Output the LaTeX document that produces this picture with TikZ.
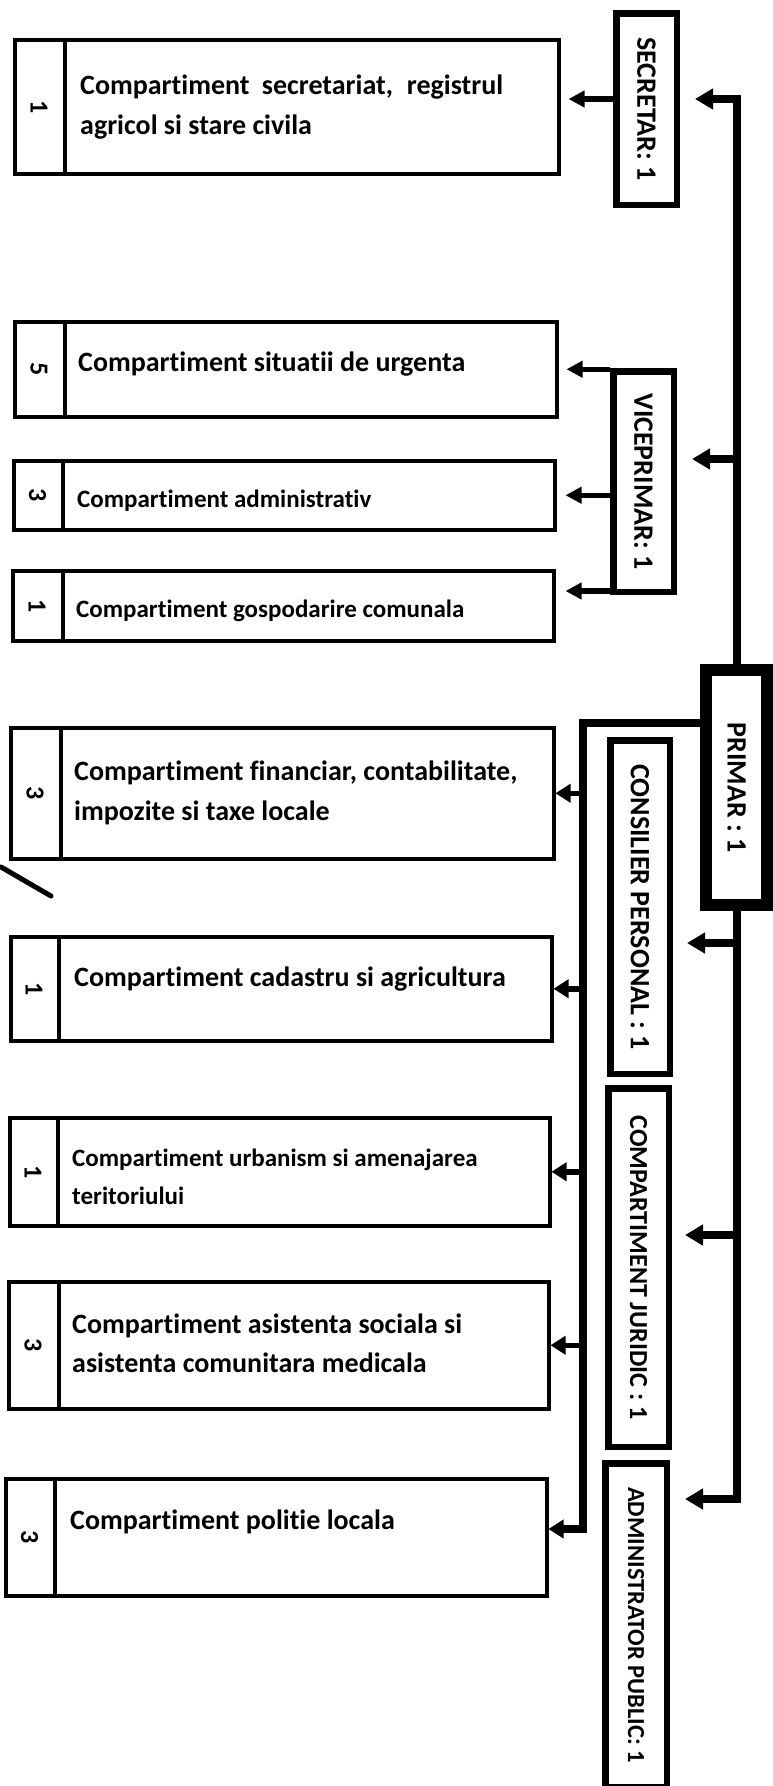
\documentclass[tikz,border=0pt]{standalone}
\usepackage{fontspec}
\setmainfont{Carlito}[Ligatures={NoCommon,NoRequired,NoContextual}]
\usepackage{graphicx}
\usetikzlibrary{arrows.meta,calc}
\begin{document}
\begin{tikzpicture}[x=1pt,y=-1pt,
  lbox/.style={draw, line width=3.5pt, inner sep=0pt, anchor=north west},
  divline/.style={line width=4pt},
  rbox/.style={draw, line width=6.5pt, inner sep=0pt},
  pbox/.style={draw, line width=12pt, inner sep=0pt},
  num/.style={font=\fontsize{26}{30}\selectfont\bfseries, inner sep=0pt, rotate=-90},
  ltxt/.style={font=\fontsize{28}{34}\selectfont\bfseries, inner sep=0pt, anchor=base west},
  ltxts/.style={font=\fontsize{25}{30}\selectfont\bfseries, inner sep=0pt, anchor=base west},
  sarr/.style={line width=5.5pt, -{Triangle[length=16pt,width=16pt]}},
  larr/.style={line width=5.5pt, -{Triangle[length=15pt,width=18pt]}},
  marr/.style={line width=8pt, line join=miter, -{Triangle[length=18pt,width=20pt]}},
  lbus/.style={line width=8pt, line join=miter, -{Triangle[length=15pt,width=18pt]}}
]
\useasboundingbox (0,0) rectangle (773,1786);
\fill[white] (0,0) rectangle (773,1786);

% ---------- left boxes ----------
\node[lbox, minimum width=544pt, minimum height=134pt] (bA) at (13,38) {};
\draw[divline] ($(bA.north west)+(52,0)$) -- ($(bA.south west)+(52,0)$);
\node[num] (nA) at ($(bA.west)+(26,0)$) {1};
\node[ltxt] (tA1) at (80,94) {\makebox[423pt][s]{Compartiment secretariat, registrul}};
\node[ltxt] (tA2) at (80,134) {agricol si stare civila};

\node[lbox, minimum width=542pt, minimum height=95pt] (bB) at (13,320) {};
\draw[divline] ($(bB.north west)+(52,0)$) -- ($(bB.south west)+(52,0)$);
\node[num] (nB) at ($(bB.west)+(26,0)$) {5};
\node[ltxt] (tB) at (78,371) {Compartiment situatii de urgenta};

\node[lbox, minimum width=541pt, minimum height=69pt] (bC) at (12,459) {};
\draw[divline] ($(bC.north west)+(51,0)$) -- ($(bC.south west)+(51,0)$);
\node[num] (nC) at ($(bC.west)+(25.5,0)$) {3};
\node[ltxts] (tC) at (77,507) {Compartiment administrativ};

\node[lbox, minimum width=541pt, minimum height=70pt] (bD) at (11,569) {};
\draw[divline] ($(bD.north west)+(52,0)$) -- ($(bD.south west)+(52,0)$);
\node[num] (nD) at ($(bD.west)+(26,0)$) {1};
\node[ltxts] (tD) at (76,617) {Compartiment gospodarire comunala};

\node[lbox, minimum width=543pt, minimum height=131pt] (bE) at (9,726) {};
\draw[divline] ($(bE.north west)+(52,0)$) -- ($(bE.south west)+(52,0)$);
\node[num] (nE) at ($(bE.west)+(26,0)$) {3};
\node[ltxt] (tE1) at (74,780) {Compartiment financiar, contabilitate,};
\node[ltxt] (tE2) at (74,820) {impozite si taxe locale};

\node[lbox, minimum width=541pt, minimum height=104pt] (bF) at (9,935) {};
\draw[divline] ($(bF.north west)+(50,0)$) -- ($(bF.south west)+(50,0)$);
\node[num] (nF) at ($(bF.west)+(25,0)$) {1};
\node[ltxt] (tF) at (74,986) {Compartiment cadastru si agricultura};

\node[lbox, minimum width=540pt, minimum height=108pt] (bG) at (8,1116) {};
\draw[divline] ($(bG.north west)+(50,0)$) -- ($(bG.south west)+(50,0)$);
\node[num] (nG) at ($(bG.west)+(25,0)$) {1};
\node[ltxts] (tG1) at (72,1166) {Compartiment urbanism si amenajarea};
\node[ltxts] (tG2) at (72,1204) {teritoriului};

\node[lbox, minimum width=540pt, minimum height=127pt] (bH) at (7,1280) {};
\draw[divline] ($(bH.north west)+(52,0)$) -- ($(bH.south west)+(52,0)$);
\node[num] (nH) at ($(bH.west)+(26,0)$) {3};
\node[ltxt] (tH1) at (72,1333) {Compartiment asistenta sociala si};
\node[ltxt] (tH2) at (72,1372) {asistenta comunitara medicala};

\node[lbox, minimum width=541pt, minimum height=117pt] (bI) at (4,1477) {};
\draw[divline] ($(bI.north west)+(51,0)$) -- ($(bI.south west)+(51,0)$);
\node[num] (nI) at ($(bI.west)+(25.5,0)$) {3};
\node[ltxt] (tI) at (70,1529) {Compartiment politie locala};

% stray pen mark
\draw[line width=5pt, line cap=round] (1,867) -- (51,896);

% ---------- right boxes ----------
\node[rbox, minimum width=60.5pt, minimum height=191.5pt] (sec) at (646.5,109)
  {\rotatebox{-90}{\fontsize{28}{34}\selectfont\bfseries SECRETAR: 1}};
\node[rbox, minimum width=60.5pt, minimum height=220.5pt] (vice) at (643.5,481.5)
  {\rotatebox{-90}{\fontsize{28}{34}\selectfont\bfseries VICEPRIMAR: 1}};
\node[pbox, minimum width=61pt, minimum height=235pt] (pr) at (736.5,787.5)
  {\rotatebox{-90}{\fontsize{28}{34}\selectfont\bfseries PRIMAR : 1}};
\node[rbox, minimum width=59.5pt, minimum height=333.5pt] (cons) at (640,907)
  {\rotatebox{-90}{\fontsize{28}{34}\selectfont\bfseries CONSILIER PERSONAL : 1}};
\node[rbox, minimum width=60.5pt, minimum height=358.5pt] (jur) at (638.5,1267.5)
  {\rotatebox{-90}{\fontsize{26}{32}\selectfont\bfseries COMPARTIMENT JURIDIC : 1}};
\node[rbox, minimum width=61.5pt, minimum height=323.5pt] (adm) at (636,1625)
  {\rotatebox{-90}{\fontsize{24.5}{30}\selectfont\bfseries ADMINISTRATOR PUBLIC: 1}};
% the admin box runs on past the bottom edge of the page
\draw[line width=6.5pt] ($(adm.south west)+(3.25,-3.25)$) -- ($(adm.south west)+(3.25,20)$);
\draw[line width=6.5pt] ($(adm.south east)+(-3.25,-3.25)$) -- ($(adm.south east)+(-3.25,20)$);

% ---------- connectors ----------
\coordinate (mtop) at (736.5,99);
\coordinate (mv) at (736.5,459);
\coordinate (mc) at (736.5,943);
\coordinate (mj) at (736.5,1235);
\coordinate (mbot) at (736.5,1499);

\draw[marr, shorten >=15pt] (pr.north) -- (mtop) -- (sec.east |- mtop);
\draw[marr, shorten >=15pt] (mv) -- (vice.east |- mv);
\draw[marr, shorten >=15pt] (pr.south) -- (mbot) -- (adm.east |- mbot);
\draw[marr, shorten >=14pt] (mc) -- (cons.east |- mc);
\draw[marr, shorten >=13pt] (mj) -- (jur.east |- mj);

% secretar -> A
\coordinate (sA) at (sec.west |- 0,99);
\draw[sarr, shorten >=8pt] (sA) -- (bA.east |- sA);
% viceprimar -> B, C, D
\coordinate (vB) at (vice.west |- bB.east);
\draw[sarr, shorten >=8pt] (vB) -- (bB.east);
\coordinate (vC) at (vice.west |- bC.east);
\draw[sarr, shorten >=9pt] (vC) -- (bC.east);
\coordinate (vD) at ($(vice.south west)+(0,-4)$);
\draw[sarr, shorten >=10pt] (vD) -- (bD.east |- vD);

% primar left bus
\coordinate (lbT) at (583,723);
\coordinate (lbB) at (583,1529);
\draw[lbus] (pr.west |- lbT) -- (lbT) -- (lbB) -- (bI.east |- lbB);
\draw[larr] (lbT |- bE.east) -- (bE.east);
\draw[larr] (lbT |- bF.east) -- (bF.east);
\draw[larr] (lbT |- bG.east) -- (bG.east);
\draw[larr] (lbT |- bH.east) -- (bH.east);
\end{tikzpicture}
\end{document}
